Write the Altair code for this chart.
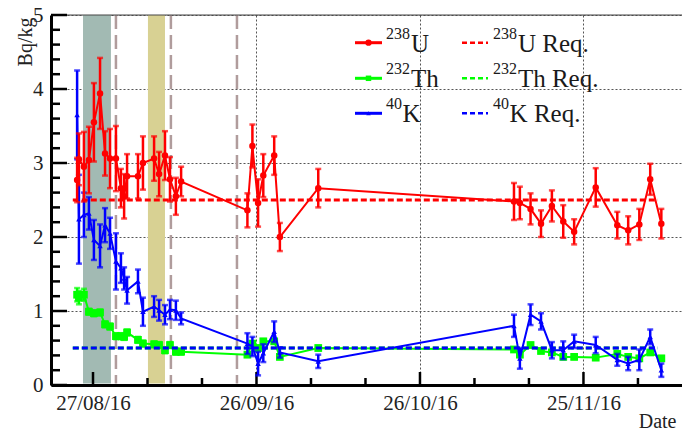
import altair as alt
import pandas as pd

FONT = "Liberation Serif"
W, H = 631, 370

# ---------------- data ----------------
dates = [
    "2016-08-24T02:00", "2016-08-24T10:00", "2016-08-25T08:00", "2016-08-26T06:00",
    "2016-08-27T04:00", "2016-08-28T07:00", "2016-08-29T05:00", "2016-08-30T03:00",
    "2016-08-31T05:00", "2016-09-01T03:00", "2016-09-01T17:00", "2016-09-02T06:00",
    "2016-09-04T06:00", "2016-09-05T04:00", "2016-09-07T05:00", "2016-09-08T03:00",
    "2016-09-09T05:00", "2016-09-10T03:00", "2016-09-11T05:00", "2016-09-12T04:00",
    "2016-09-24T08:00", "2016-09-25T06:00", "2016-09-26T07:00", "2016-09-27T06:00",
    "2016-09-29T06:00", "2016-09-30T07:00", "2016-10-07T08:00",
    "2016-11-12T06:00", "2016-11-13T08:00", "2016-11-15T07:00", "2016-11-17T05:00",
    "2016-11-19T05:00", "2016-11-21T07:00", "2016-11-23T07:00", "2016-11-27T06:00",
    "2016-12-01T05:00", "2016-12-03T05:00", "2016-12-05T06:00", "2016-12-07T06:00",
    "2016-12-09T07:00",
]

u238 = [2.77, 3.05, 2.95, 3.04, 3.55, 3.94, 3.13, 3.06, 3.06, 2.66, 2.55, 2.82,
        2.82, 3.00, 3.06, 2.85, 3.10, 2.78, 2.55, 2.75,
        2.36, 3.23, 2.46, 2.83, 3.10, 2.00, 2.66,
        2.48, 2.46, 2.38, 2.18, 2.42, 2.21, 2.07, 2.67, 2.16, 2.09, 2.17, 2.78, 2.18]
u238_err = [0.30, 0.35, 0.47, 0.45, 0.53, 0.48, 0.30, 0.40, 0.44, 0.26, 0.30, 0.30,
            0.30, 0.36, 0.30, 0.30, 0.33, 0.30, 0.25, 0.20,
            0.23, 0.29, 0.32, 0.29, 0.26, 0.19, 0.26,
            0.25, 0.22, 0.21, 0.18, 0.21, 0.22, 0.17, 0.26, 0.18, 0.19, 0.21, 0.21, 0.20]

th232 = [1.22, 1.18, 1.22, 0.99, 0.97, 0.98, 0.82, 0.79, 0.66, 0.66, 0.65, 0.71,
         0.61, 0.56, 0.55, 0.54, 0.47, 0.54, 0.45, 0.45,
         0.41, 0.56, 0.50, 0.59, 0.59, 0.38, 0.50,
         0.48, 0.41, 0.54, 0.46, 0.44, 0.38, 0.38, 0.37, 0.42, 0.38, 0.36, 0.44, 0.36]
th232_err = [0.09, 0.09, 0.08, 0.04, 0.04, 0.04, 0.04, 0.04, 0.04, 0.04, 0.04, 0.04,
             0.04, 0.04, 0.04, 0.04, 0.04, 0.04, 0.04, 0.04,
             0.03, 0.03, 0.03, 0.03, 0.03, 0.03, 0.03,
             0.03, 0.03, 0.03, 0.03, 0.03, 0.03, 0.03, 0.03, 0.03, 0.03, 0.03, 0.03, 0.03]

k40 = [3.65, 2.24, 2.30, 2.32, 1.96, 1.88, 2.16, 2.05, 1.67, 1.58, 1.44, 1.28,
       1.40, 0.99, 1.06, 1.01, 0.95, 1.02, 1.01, 0.90,
       0.56, 0.52, 0.29, 0.43, 0.72, 0.44, 0.32,
       0.80, 0.36, 0.95, 0.86, 0.47, 0.47, 0.59, 0.54, 0.34, 0.29, 0.34, 0.65, 0.20]
k40_err = [0.60, 0.60, 0.30, 0.22, 0.27, 0.29, 0.23, 0.21, 0.38, 0.20, 0.15, 0.18,
           0.16, 0.19, 0.14, 0.14, 0.13, 0.13, 0.13, 0.08,
           0.14, 0.13, 0.16, 0.12, 0.14, 0.07, 0.09,
           0.15, 0.14, 0.14, 0.11, 0.11, 0.12, 0.09, 0.11, 0.08, 0.09, 0.14, 0.10, 0.09]

series_names = ["U238", "Th232", "K40"]
req_values = [2.5, 0.5, 0.5]
req_span = ["2016-08-23T07:00", "2016-12-08T16:00"]

event_lines = ["2016-08-31T05:00", "2016-09-10T07:00", "2016-09-22T10:00"]
band_starts = ["2016-08-25T04:00", "2016-09-06T02:00"]
band_ends = ["2016-08-30T07:00", "2016-09-09T05:00"]
band_colors = ["#a2bab3", "#d8d193"]

x_domain = ["2016-08-19T07:00", "2016-12-13T02:00"]
x_major = ["2016-08-27T00:00", "2016-09-26T00:00", "2016-10-26T00:00", "2016-11-25T00:00"]
x_minor = ["2016-09-06T00:00", "2016-09-16T00:00", "2016-10-06T00:00", "2016-10-16T00:00",
           "2016-11-05T00:00", "2016-11-15T00:00", "2016-12-05T00:00"]
y_major = [0, 1, 2, 3, 4, 5]
y_minor = [round(i * 0.2, 1) for i in range(26) if i % 5 != 0]

legend_sup = ["238", "232", "40"]
legend_main = ["U", "Th", "K"]
legend_req = ["U Req.", "Th Req.", "K Req."]

# ---------------- styles ----------------
colors = {"U238": "#ff0000", "Th232": "#00ff00", "K40": "#0000ff"}
shapes = {"U238": "circle", "Th232": "square", "K40": "triangle-up"}
sizes = {"U238": 42, "Th232": 60, "K40": 30}
leg_sizes = {"U238": 40, "Th232": 30, "K40": 20}


def z(s):
    return s + "Z"


def dt(s):
    t = pd.Timestamp(s)
    return alt.DateTime(year=t.year, month=t.month, date=t.day,
                        hours=t.hour, minutes=t.minute, utc=True)


X_SCALE = alt.Scale(type="utc", domain=[dt(x_domain[0]), dt(x_domain[1])], nice=False)
X_AXIS = alt.Axis(values=[dt(d) for d in x_major], format="%d/%m/%y",
                  labelFont=FONT, labelFontSize=21, labelColor="#222", labelPadding=7,
                  labelOverlap=False, labelFlush=False, ticks=False,
                  grid=True, gridDash=[2, 2], gridColor="#555", gridWidth=1,
                  domainColor="#000", domainWidth=3,
                  titleFont=FONT, titleFontSize=20, titleFontWeight="normal", titleColor="#222",
                  titleAlign="right", titleBaseline="alphabetic", titleX=W - 6, titleY=42)
Y_SCALE = alt.Scale(domain=[0, 5], nice=False, zero=False)
Y_AXIS = alt.Axis(values=y_major, format="d",
                  labelFont=FONT, labelFontSize=21, labelColor="#222", labelPadding=8,
                  ticks=False, grid=True, gridDash=[2, 2], gridColor="#555", gridWidth=1,
                  domainColor="#000", domainWidth=3,
                  titleFont=FONT, titleFontSize=20, titleFontWeight="normal", titleColor="#222",
                  titleAngle=270, titleAlign="right", titleBaseline="middle",
                  titleX=-26, titleY=2)


def X(field):
    return alt.X(f"{field}:T", scale=X_SCALE, axis=X_AXIS, title="Date")


def Y(field):
    return alt.Y(f"{field}:Q", scale=Y_SCALE, axis=Y_AXIS, title="Bq/kg")


one = pd.DataFrame({"k": [0]})
layers = []

# bands
for s, e, c in zip(band_starts, band_ends, band_colors):
    bdf = pd.DataFrame({"start": [z(s)], "end": [z(e)]})
    layers.append(alt.Chart(bdf).mark_rect(color=c, opacity=1).encode(
        x=X("start"), x2="end", y=alt.value(0), y2=alt.value(368.5)))

# event lines
edf = pd.DataFrame({"date": [z(d) for d in event_lines]})
layers.append(alt.Chart(edf).mark_rule(color="#b09c9c", strokeWidth=2.5, strokeDash=[14, 6]).encode(
    x=X("date"), y=alt.value(0), y2=alt.value(368.5)))

# top border
layers.append(alt.Chart(one).mark_rule(color="#444", strokeWidth=1).encode(
    x=alt.value(0), x2=alt.value(W), y=alt.value(0)))

# inward ticks
xt_major = pd.DataFrame({"date": [z(d) for d in x_major]})
xt_minor = pd.DataFrame({"date": [z(d) for d in x_minor]})
layers.append(alt.Chart(xt_major).mark_rule(color="#000", strokeWidth=2.5).encode(
    x=X("date"), y=alt.value(369), y2=alt.value(357)))
layers.append(alt.Chart(xt_minor).mark_rule(color="#000", strokeWidth=2.5).encode(
    x=X("date"), y=alt.value(369), y2=alt.value(363)))
yt_major = pd.DataFrame({"v": y_major})
yt_minor = pd.DataFrame({"v": y_minor})
layers.append(alt.Chart(yt_major).mark_rule(color="#000", strokeWidth=2.5).encode(
    y=Y("v"), x=alt.value(0), x2=alt.value(16)))
layers.append(alt.Chart(yt_minor).mark_rule(color="#000", strokeWidth=2.5).encode(
    y=Y("v"), x=alt.value(0), x2=alt.value(9)))

# series data
series_vals = {"U238": (u238, u238_err), "Th232": (th232, th232_err), "K40": (k40, k40_err)}


def series_layers(name):
    vals, errs = series_vals[name]
    df = pd.DataFrame({
        "date": [z(d) for d in dates],
        "value": vals,
        "lo": [v - e for v, e in zip(vals, errs)],
        "hi": [v + e for v, e in zip(vals, errs)],
    })
    c = colors[name]
    base = alt.Chart(df)
    return [
        base.mark_line(color=c, strokeWidth=2).encode(x=X("date"), y=Y("value")),
        base.mark_rule(color=c, strokeWidth=2.5).encode(x=X("date"), y=Y("lo"), y2="hi"),
        base.mark_tick(color=c, orient="horizontal", size=6, thickness=2.5).encode(x=X("date"), y=Y("lo")),
        base.mark_tick(color=c, orient="horizontal", size=6, thickness=2.5).encode(x=X("date"), y=Y("hi")),
        base.mark_point(color=c, filled=True, opacity=1, shape=shapes[name], size=sizes[name]).encode(
            x=X("date"), y=Y("value")),
    ]


def req_layer(i):
    name = series_names[i]
    rdf = pd.DataFrame({"start": [z(req_span[0])], "end": [z(req_span[1])], "value": [req_values[i]]})
    return alt.Chart(rdf).mark_rule(color=colors[name], strokeWidth=3, strokeDash=[6, 3]).encode(
        x=X("start"), x2="end", y=Y("value"))


layers += series_layers("Th232")
layers.append(req_layer(1))
layers.append(req_layer(0))
layers.append(req_layer(2))
layers += series_layers("K40")
layers += series_layers("U238")

# legend
rows_y = [27.7, 63.3, 98.3]
for i, name in enumerate(series_names):
    yv = rows_y[i]
    c = colors[name]
    layers.append(alt.Chart(one).mark_rule(color=c, strokeWidth=3).encode(
        x=alt.value(304), x2=alt.value(331), y=alt.value(yv)))
    layers.append(alt.Chart(one).mark_point(color=c, filled=True, opacity=1, shape=shapes[name],
                                            size=leg_sizes[name]).encode(
        x=alt.value(317.5), y=alt.value(yv)))
    layers.append(alt.Chart(one).mark_rule(color=c, strokeWidth=2.5, strokeDash=[5, 3]).encode(
        x=alt.value(411), x2=alt.value(437), y=alt.value(yv)))
    for x0, main in [(335, legend_main[i]), (442, legend_req[i])]:
        sdf = pd.DataFrame({"t": [legend_sup[i]]})
        mdf = pd.DataFrame({"t": [main]})
        layers.append(alt.Chart(sdf).mark_text(align="left", baseline="alphabetic", font=FONT,
                                               fontSize=16, color="#1a1a1a").encode(
            x=alt.value(x0), y=alt.value(yv - 4), text="t:N"))
        layers.append(alt.Chart(mdf).mark_text(align="left", baseline="alphabetic", font=FONT,
                                               fontSize=25, color="#1a1a1a").encode(
            x=alt.value(x0 + 8.3 * len(legend_sup[i])), y=alt.value(yv + 9), text="t:N"))

chart = alt.layer(*layers).properties(
    width=W, height=H,
    padding={"left": 51, "top": 15, "right": 0, "bottom": 45},
    autosize=alt.AutoSizeParams(type="none"),
    background="white",
).configure_view(stroke=None).configure(font=FONT)

chart.save("out.html", embed_options={"renderer": "svg", "actions": False})
